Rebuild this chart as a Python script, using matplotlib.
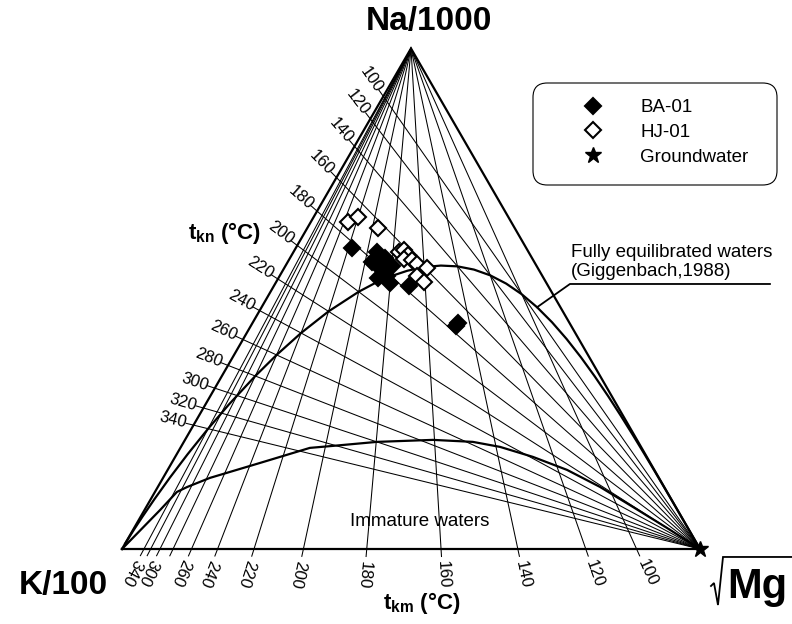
import numpy as np
import matplotlib
matplotlib.use('Agg')
import matplotlib.pyplot as plt
from matplotlib.patches import FancyBboxPatch

plt.rcParams['font.family'] = ['Liberation Sans', 'DejaVu Sans']
plt.rcParams['mathtext.fontset'] = 'custom'
plt.rcParams['mathtext.rm'] = 'Liberation Sans'
plt.rcParams['mathtext.bf'] = 'Liberation Sans:bold'
plt.rcParams['mathtext.it'] = 'Liberation Sans:italic'

# samples, in % of (Na/1000, K/100, sqrt(Mg)); K/100 is the rest
ba_na = [60.1, 59.3, 57.3, 56.1, 54.5, 58.1, 56.5, 54.1, 53.1, 52.5, 44.5, 45.1]
ba_mg = [9.7, 14.5, 14.6, 16.6, 18.6, 16.4, 18.4, 17.2, 19.8, 23.4, 35.5, 35.6]
hj_na = [65.3, 66.3, 64.1, 59.3, 59.7, 58.7, 57.9, 57.7, 56.9, 56.1, 54.5, 53.3]
hj_mg = [6.4, 7.7, 12.2, 18.3, 18.9, 20.1, 19.8, 21.3, 22.6, 24.7, 23.8, 25.6]
gw_na = [0.0]
gw_mg = [100.0]

# isotherms of the two geothermometers (deg C)
tkn_temps = [100, 120, 140, 160, 180, 200, 220, 240, 260, 280, 300, 320, 340]
tkm_temps = [100, 120, 140, 160, 180, 200, 220, 240, 260, 280, 300, 320, 340]
tkm_labels = [100, 120, 140, 160, 180, 200, 220, 240, 260, 300, 340]

# full equilibrium line (t_kn = t_km)
full_eq_temps = [1500, 1000, 750, 600, 500, 430, 380, 340, 310, 280, 260, 240,
                 220, 200, 190, 180, 170, 160, 150, 140, 130, 120, 110, 100,
                 90, 80, 70, 60, 50, 40, 30, 20, 10, 0, -10, -20, -30, -40,
                 -55, -70, -85, -100, -130, -160]

# immature waters boundary (% Na/1000, % sqrt(Mg))
imm_na = [0, 7.8, 11.4, 12.4, 14.2, 17.2, 20.2, 20.6, 21.4, 21.8, 21.4, 20.4,
          18.4, 15.8, 12.4, 8.4, 4.2, 0]
imm_mg = [0, 2.7, 3.8, 5.1, 8.1, 15.3, 22.4, 26.2, 33.4, 42.9, 50.0, 55.2,
          61.9, 69.1, 76.5, 84.2, 92.2, 100]

SQ = np.sqrt(3) / 2
NA_V = np.array([0.5, SQ])
K_V = np.array([0.0, 0.0])
MG_V = np.array([1.0, 0.0])


def tern_xy(na, k, mg):
    na, k, mg = np.asarray(na, float), np.asarray(k, float), np.asarray(mg, float)
    s = na + k + mg
    return (mg + na / 2) / s, na * SQ / s


def pct_xy(na_pct, mg_pct):
    na = np.asarray(na_pct, float)
    mg = np.asarray(mg_pct, float)
    return tern_xy(na, 100 - na - mg, mg)


def na_k(t):
    # Giggenbach (1988) Na/K
    return 10 ** (1390.0 / (np.asarray(t, float) + 273.15) - 1.75)


def k2_mg(t):
    # Giggenbach (1988) K^2/Mg
    return 10 ** (14.0 - 4410.0 / (np.asarray(t, float) + 273.15))


fig = plt.figure(figsize=(7.92, 6.24), dpi=100)
ax = fig.add_axes([0, 0, 1, 1])
ax.set_xlim(-122 / 578, 670 / 578)
ax.set_ylim(-75 / 578, 549 / 578)
ax.axis('off')

thin = dict(color='k', lw=0.75, zorder=1)
ext = 0.013

# Na-K isotherms, from the Mg corner to the Na-K side
for t in tkn_temps:
    p = np.array(tern_xy(na_k(t) / 1000, 0.01, 0))
    u = (p - MG_V) / np.linalg.norm(p - MG_V)
    q = p + u * ext
    ax.plot([MG_V[0], q[0]], [MG_V[1], q[1]], **thin)
    lp = p + u * 0.036
    ang = np.degrees(np.arctan2(-u[1], -u[0]))
    ax.text(lp[0], lp[1], str(t), fontsize=12, rotation=ang,
            rotation_mode='anchor', ha='center', va='center')

# K-Mg isotherms, from the Na corner to the K-Mg side
for t in tkm_temps:
    p = np.array(tern_xy(0, 0.01, np.sqrt(1 / k2_mg(t))))
    u = (p - NA_V) / np.linalg.norm(p - NA_V)
    q = p + u * ext
    ax.plot([NA_V[0], q[0]], [NA_V[1], q[1]], **thin)
    if t in tkm_labels:
        lp = p + u * 0.045
        ang = np.degrees(np.arctan2(u[1], u[0]))
        ax.text(lp[0], lp[1], str(t), fontsize=12, rotation=ang,
                rotation_mode='anchor', ha='center', va='center')

# triangle
tri = np.array([K_V, MG_V, NA_V, K_V])
ax.plot(tri[:, 0], tri[:, 1], color='k', lw=1.6, zorder=3, solid_joinstyle='miter')

# full equilibrium and immature curves
fx, fy = tern_xy(na_k(full_eq_temps) / 1000, 0.01, np.sqrt(1 / k2_mg(full_eq_temps)))
ax.plot(fx, fy, color='k', lw=1.6, zorder=3)
ix, iy = pct_xy(imm_na, imm_mg)
ax.plot(ix, iy, color='k', lw=1.6, zorder=3)

# samples
bx, by = pct_xy(ba_na, ba_mg)
ax.plot(bx, by, 'D', ms=8.5, mfc='k', mec='k', mew=1.5, ls='none', zorder=5, label='BA-01')
hx, hy = pct_xy(hj_na, hj_mg)
ax.plot(hx, hy, 'D', ms=8.5, mfc='white', mec='k', mew=1.5, ls='none', zorder=6, label='HJ-01')
gx, gy = pct_xy(gw_na, gw_mg)
ax.plot(gx, gy, '*', ms=12, color='k', ls='none', zorder=7, label='Groundwater', clip_on=False)

# legend box drawn separately so its size matches the original
box = FancyBboxPatch((533 / 792, 1 - 185 / 624), 244 / 792, 102 / 624,
                     boxstyle='round,pad=0,rounding_size=0.018',
                     transform=fig.transFigure, facecolor='white', edgecolor='k',
                     lw=0.8, zorder=8, mutation_aspect=792 / 624, clip_on=False)
ax.add_patch(box)
leg = ax.legend(loc='upper left', bbox_to_anchor=(533 / 792, 1 - 83 / 624),
                bbox_transform=fig.transFigure, fontsize=13.5, frameon=False,
                borderpad=0.85, handlelength=4.7, handletextpad=0.16,
                labelspacing=0.41, numpoints=1, borderaxespad=0)
leg.set_zorder(9)

# annotation for the full equilibrium line
a0 = np.array(tern_xy(na_k(90) / 1000, 0.01, np.sqrt(1 / k2_mg(90))))
ax.plot([a0[0], 0.775, 1.121], [a0[1], 0.4585, 0.4585], color='k', lw=1.3, zorder=4)
ax.text(0.777, 0.466, 'Fully equilibrated waters\n(Giggenbach,1988)', fontsize=13.5,
        ha='left', va='bottom', linespacing=1.15)
ax.text(0.5156, 0.0484, 'Immature waters', fontsize=13.5, ha='center', va='center')

# corner and axis titles
ax.text(0.531, 0.912, 'Na/1000', fontsize=24, fontweight='bold', ha='center', va='center')
ax.text(-0.102, -0.0623, 'K/100', fontsize=24, fontweight='bold', ha='center', va='center')
ax.text(1.0467, -0.0848, 'Mg', fontsize=30, fontweight='bold', ha='left', va='baseline')
ax.plot([1.019, 1.0242, 1.0311, 1.0398, 1.159], [-0.064, -0.0588, -0.0969, -0.0138, -0.0138],
        color='k', lw=1.3, clip_on=False, solid_joinstyle='miter')
ax.text(0.178, 0.547, r'$\mathbf{t_{kn}}$ (°C)', fontsize=16, fontweight='bold',
        ha='center', va='center')
ax.text(0.519, -0.093, r'$\mathbf{t_{km}}$ (°C)', fontsize=16, fontweight='bold',
        ha='center', va='center')

fig.savefig('out.png', dpi=100)
